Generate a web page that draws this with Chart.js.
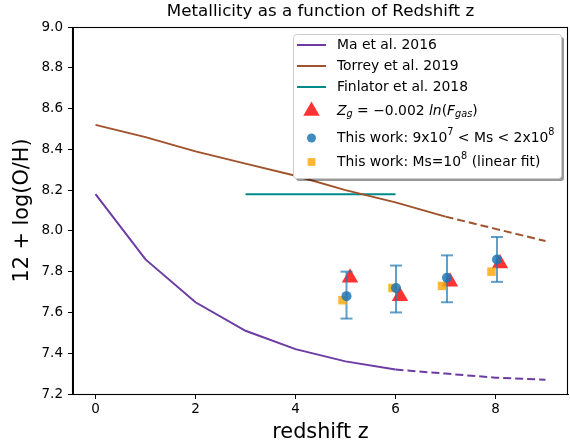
<!DOCTYPE html>
<html>
<head>
<meta charset="utf-8">
<title>Metallicity as a function of Redshift z</title>
<script src="https://cdn.jsdelivr.net/npm/chart.js@4.4.1/dist/chart.umd.min.js"></script>
<style>
    html, body { margin: 0; padding: 0; background: #fff; }
    #chart { display: block; }
</style>
</head>
<body>
<canvas id="chart" width="570" height="445"></canvas>
<script>
// Data
const maZSolid = [0, 1, 2, 3, 4, 5, 6];
const maSolid = [8.18, 7.86, 7.65, 7.51, 7.42, 7.36, 7.32];
const maZDash = [6, 7, 8, 9];
const maDash = [7.32, 7.30, 7.28, 7.27];

const torreyZSolid = [0, 1, 2, 3, 4, 5, 6, 7];
const torreySolid = [8.52, 8.46, 8.39, 8.33, 8.27, 8.20, 8.14, 8.07];
const torreyZDash = [7, 8, 9];
const torreyDash = [8.07, 8.01, 7.95];

const finlatorZ = [3, 6];
const finlatorVals = [8.18, 8.18];

const gasZ = [5.09, 6.09, 7.09, 8.09];
const gasVals = [7.77, 7.68, 7.75, 7.84];

const workZ = [5.02, 6.01, 7.03, 8.03];
const workVals = [7.68, 7.72, 7.77, 7.86];
const workLow = [7.57, 7.60, 7.65, 7.75];
const workHigh = [7.80, 7.83, 7.88, 7.97];

const fitZ = [4.94, 5.94, 6.93, 7.92];
const fitVals = [7.66, 7.72, 7.73, 7.80];

const xTicks = [0, 2, 4, 6, 8];
const yTicks = [7.2, 7.4, 7.6, 7.8, 8.0, 8.2, 8.4, 8.6, 8.8, 9.0];

// legend labels (rich text: it = italic, sub / sup)
const legendLabels = [
    [{ t: 'Ma et al. 2016' }],
    [{ t: 'Torrey et al. 2019' }],
    [{ t: 'Finlator et al. 2018' }],
    [{ t: 'Z', it: 1 }, { t: 'g', it: 1, sub: 1 }, { t: ' = \u22120.002 ' }, { t: 'ln', it: 1 }, { t: '(' }, { t: 'F', it: 1 }, { t: 'gas', it: 1, sub: 1 }, { t: ')' }],
    [{ t: 'This work: 9x10' }, { t: '7', sup: 1 }, { t: ' < Ms < 2x10' }, { t: '8', sup: 1 }],
    [{ t: 'This work: Ms=10' }, { t: '8', sup: 1 }, { t: ' (linear fit)' }]
];

const FONT = '"DejaVu Sans", sans-serif';
const purple = '#6c3ba3';
const brown = '#a0522d';
const teal = '#008b8b';
const red = 'rgba(255, 0, 0, 0.8)';
const blue = 'rgba(31, 119, 180, 0.85)';
const errBlue = 'rgba(31, 119, 180, 0.7)';
const orange = 'rgba(255, 165, 0, 0.8)';

function pts(xs, ys) {
    return xs.map((x, i) => ({ x: x, y: ys[i] }));
}

function lineSet(xs, ys, color, dashed, order) {
    return {
        data: pts(xs, ys),
        showLine: true,
        borderColor: color,
        backgroundColor: color,
        borderWidth: 2,
        borderDash: dashed ? [8, 4] : [],
        pointRadius: 0,
        order: order
    };
}

const datasets = [
    lineSet(maZSolid, maSolid, purple, false, 10),
    lineSet(maZDash, maDash, purple, true, 10),
    lineSet(torreyZSolid, torreySolid, brown, false, 10),
    lineSet(torreyZDash, torreyDash, brown, true, 10),
    lineSet(finlatorZ, finlatorVals, teal, false, 10),
    {
        data: pts(gasZ, gasVals),
        pointStyle: 'triangle',
        pointRadius: 9.5,
        backgroundColor: red,
        borderColor: red,
        borderWidth: 0,
        order: 5
    },
    {
        data: pts(fitZ, fitVals),
        pointStyle: 'rect',
        pointRadius: 6,
        backgroundColor: orange,
        borderColor: orange,
        borderWidth: 0,
        order: 2
    },
    {
        data: pts(workZ, workVals),
        pointStyle: 'circle',
        pointRadius: 5,
        backgroundColor: blue,
        borderColor: blue,
        borderWidth: 0,
        order: 1
    }
];

// error bars as two-point segments with horizontal caps
workZ.forEach((z, i) => {
    datasets.push({
        data: [{ x: z, y: workLow[i] }, { x: z, y: workHigh[i] }],
        showLine: true,
        borderColor: errBlue,
        borderWidth: 2,
        pointStyle: 'line',
        pointRadius: 6,
        pointBorderWidth: 2,
        pointBorderColor: errBlue,
        order: 3
    });
});

// black box round the plot
const frame = {
    id: 'frame',
    afterDatasetsDraw(chart) {
        const a = chart.chartArea;
        const c = chart.ctx;
        c.save();
        c.strokeStyle = '#000';
        c.lineWidth = 1.1;
        c.strokeRect(Math.round(a.left) - 0.5, Math.round(a.top) + 0.5, Math.round(a.right - a.left), Math.round(a.bottom - a.top));
        c.restore();
    }
};

function richText(c, parts, x, y, size) {
    parts.forEach(p => {
        const s = (p.sub || p.sup) ? size * 0.7 : size;
        c.font = (p.it ? 'italic ' : '') + s + 'px ' + FONT;
        let dy = 0;
        if (p.sub) dy = size * 0.22;
        if (p.sup) dy = -size * 0.38;
        c.fillText(p.t, x, y + dy);
        x += c.measureText(p.t).width;
    });
}

// legend inside the axes, matplotlib style
const boxLegend = {
    id: 'boxLegend',
    afterDraw(chart) {
        const c = chart.ctx;
        const ds = chart.data.datasets;
        const entries = [
            { set: ds[0], kind: 'line' },
            { set: ds[2], kind: 'line' },
            { set: ds[4], kind: 'line' },
            { set: ds[5], kind: 'point', r: 9.5 },
            { set: ds[7], kind: 'point', r: 4.5 },
            { set: ds[6], kind: 'point', r: 5.5 }
        ];
        const rows = [45, 66, 87, 111, 138, 162];
        const bx = 293, by = 34, bw = 268, bh = 144;

        c.save();
        c.fillStyle = 'rgba(0, 0, 0, 0.4)';
        c.beginPath();
        c.roundRect(bx + 3, by + 3, bw, bh, 3);
        c.fill();
        c.fillStyle = '#fff';
        c.strokeStyle = '#cccccc';
        c.lineWidth = 1;
        c.beginPath();
        c.roundRect(bx + 0.5, by + 0.5, bw, bh, 3);
        c.fill();
        c.stroke();

        entries.forEach((e, i) => {
            const y = rows[i];
            if (e.kind === 'line') {
                c.strokeStyle = e.set.borderColor;
                c.lineWidth = 2;
                c.beginPath();
                c.moveTo(297, y);
                c.lineTo(326, y);
                c.stroke();
            } else {
                c.fillStyle = e.set.backgroundColor;
                c.strokeStyle = e.set.borderColor;
                Chart.helpers.drawPoint(c, { pointStyle: e.set.pointStyle, radius: e.r, borderWidth: 0, rotation: 0 }, 311.5, y);
            }
            c.fillStyle = '#000';
            c.textBaseline = 'middle';
            c.textAlign = 'left';
            richText(c, legendLabels[i], 337, y, 13.9);
        });
        c.restore();
    }
};

const tickFont = { family: FONT, size: 13.5 };

new Chart(document.getElementById('chart'), {
    type: 'scatter',
    data: { datasets: datasets },
    options: {
        responsive: false,
        animation: false,
        layout: { autoPadding: false, padding: { left: 0, right: 2, top: 0, bottom: 0 } },
        plugins: {
            legend: { display: false },
            tooltip: { enabled: false },
            title: { display: false }
        },
        scales: {
            x: {
                type: 'linear',
                min: -0.45,
                max: 9.45,
                afterBuildTicks: s => { s.ticks = xTicks.map(v => ({ value: v })); },
                afterFit: s => { s.height = 51; },
                grid: { drawOnChartArea: false, tickLength: 5, tickColor: '#000', tickWidth: 1 },
                border: { color: '#000', width: 1 },
                ticks: { color: '#000', font: tickFont, padding: 2, maxRotation: 0 },
                title: {
                    display: true,
                    text: 'redshift z',
                    color: '#000',
                    font: { family: FONT, size: 20.8 },
                    padding: { top: 0, bottom: 0 }
                }
            },
            // top axis only carries the plot title, centred over the axes
            top: {
                type: 'linear',
                position: 'top',
                min: -0.45,
                max: 9.45,
                afterFit: s => { s.height = 27; },
                grid: { display: false },
                border: { display: false },
                ticks: { display: false },
                title: {
                    display: true,
                    text: 'Metallicity as a function of Redshift z',
                    color: '#000',
                    font: { family: FONT, size: 16.7 },
                    padding: { top: 2, bottom: 0 }
                }
            },
            y: {
                type: 'linear',
                min: 7.2,
                max: 9.0,
                afterBuildTicks: s => { s.ticks = yTicks.map(v => ({ value: v })); },
                afterFit: s => { s.width = 73; },
                grid: { drawOnChartArea: false, tickLength: 5, tickColor: '#000', tickWidth: 1 },
                border: { color: '#000', width: 1 },
                ticks: {
                    color: '#000',
                    font: tickFont,
                    padding: 5,
                    callback: v => v.toFixed(1)
                },
                title: {
                    display: true,
                    text: '12 + log(O/H)',
                    color: '#000',
                    font: { family: FONT, size: 20.8 },
                    padding: { top: 10, bottom: 0 }
                }
            }
        }
    },
    plugins: [frame, boxLegend]
});
</script>
</body>
</html>
